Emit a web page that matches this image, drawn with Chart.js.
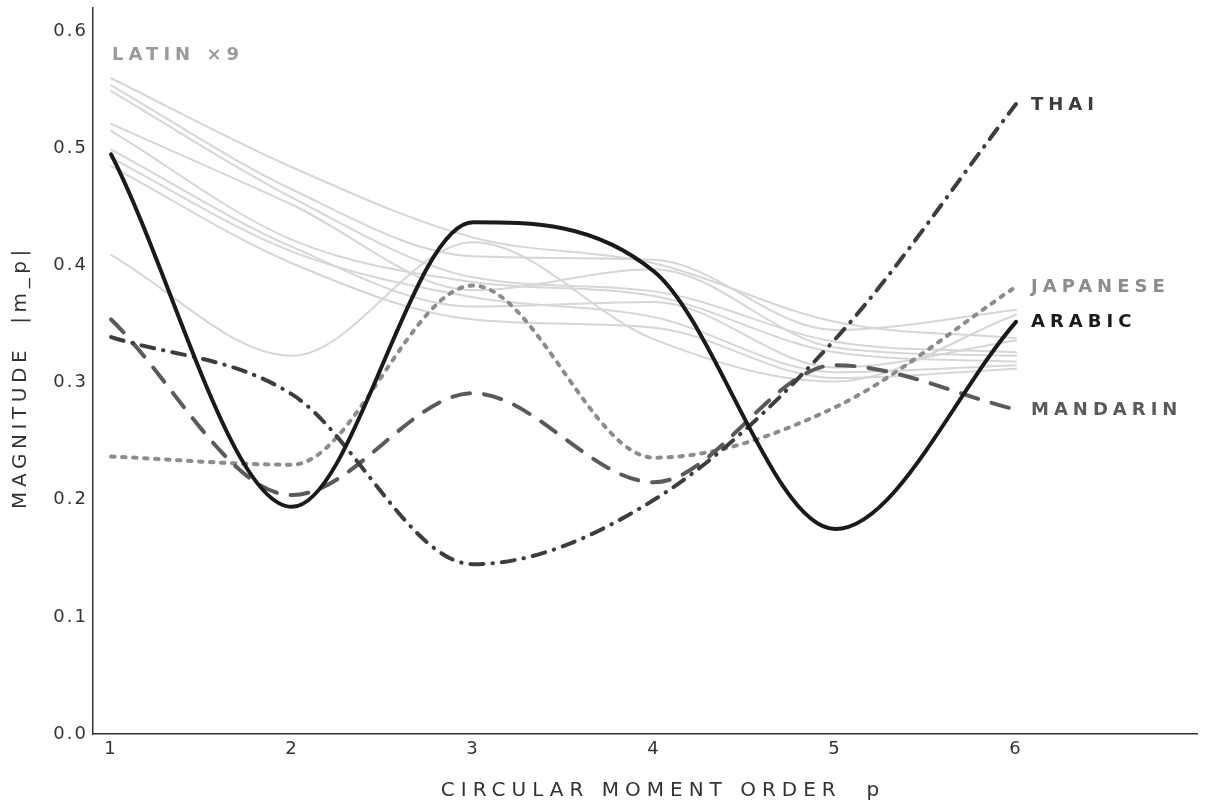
<!DOCTYPE html>
<html>
<head>
<meta charset="utf-8">
<script src="https://cdn.jsdelivr.net/npm/chart.js@4"></script>
<style>
  html, body { margin: 0; padding: 0; background: #fff; }
  #wrap { width: 1231px; height: 804px; position: relative; }
</style>
</head>
<body>
<div id="wrap"><canvas id="chart"></canvas></div>
<script>
// DATA
const orders = [1, 2, 3, 4, 5, 6];
const xTicks = [1, 2, 3, 4, 5, 6];
const yTicks = [0.0, 0.1, 0.2, 0.3, 0.4, 0.5, 0.6];

const arabic   = [0.495, 0.194, 0.437, 0.395, 0.175, 0.352];
const thai     = [0.339, 0.290, 0.145, 0.200, 0.337, 0.538];
const mandarin = [0.354, 0.204, 0.291, 0.215, 0.315, 0.277];
const japanese = [0.237, 0.230, 0.383, 0.236, 0.279, 0.382];

const latin1 = [0.560, 0.484, 0.424, 0.402, 0.352, 0.338];
const latin2 = [0.554, 0.465, 0.408, 0.405, 0.345, 0.362];
const latin3 = [0.549, 0.458, 0.390, 0.378, 0.335, 0.326];
const latin4 = [0.521, 0.452, 0.379, 0.397, 0.330, 0.323];
const latin5 = [0.515, 0.422, 0.386, 0.374, 0.326, 0.318];
const latin6 = [0.499, 0.416, 0.365, 0.369, 0.313, 0.336];
const latin7 = [0.492, 0.412, 0.373, 0.356, 0.309, 0.315];
const latin8 = [0.485, 0.402, 0.354, 0.347, 0.304, 0.312];
const latin9 = [0.409, 0.323, 0.420, 0.337, 0.301, 0.358];
const latinLines = [latin1, latin2, latin3, latin4, latin5, latin6, latin7, latin8, latin9];

const FONT = "'DejaVu Sans', sans-serif";

function pts(vals) {
    return vals.map((v, i) => ({ x: orders[i], y: v }));
}

// main language lines (first = drawn on top)
const datasets = [
    { label: "ARABIC", data: pts(arabic), borderColor: "#1a1a1a", borderWidth: 4, borderDash: [] },
    { label: "THAI", data: pts(thai), borderColor: "#3d3d3d", borderWidth: 4, borderDash: [13, 9, 0.5, 9] },
    { label: "MANDARIN", data: pts(mandarin), borderColor: "#5a5a5a", borderWidth: 4, borderDash: [18, 14] },
    { label: "JAPANESE", data: pts(japanese), borderColor: "#8c8c8c", borderWidth: 4, borderDash: [3.5, 7.5] }
];
latinLines.forEach((l, i) => {
    datasets.push({ label: "latin" + (i + 1), data: pts(l), borderColor: "#d6d6d6", borderWidth: 2, borderDash: [] });
});
datasets.forEach(d => {
    d.pointRadius = 0;
    d.pointHoverRadius = 0;
    d.fill = false;
    d.cubicInterpolationMode = "monotone";
    d.borderCapStyle = "round";
    d.borderJoinStyle = "round";
});

// end labels + axis titles
const labelColors = { ARABIC: "#1a1a1a", THAI: "#3d3d3d", MANDARIN: "#5a5a5a", JAPANESE: "#8c8c8c" };

const labelsPlugin = {
    id: "labels",
    beforeDraw(chart) {
        // a bit of tracking on the tick numbers
        chart.ctx.letterSpacing = "2px";
    },
    afterDraw(chart) {
        const ctx = chart.ctx;
        const xs = chart.scales.x, ys = chart.scales.y;
        const area = chart.chartArea;
        ctx.save();
        ctx.font = "bold 18px " + FONT;
        ctx.letterSpacing = "5px";
        ctx.textAlign = "left";
        ctx.textBaseline = "middle";
        chart.data.datasets.slice(0, 4).forEach(d => {
            const last = d.data[d.data.length - 1];
            ctx.fillStyle = labelColors[d.label];
            ctx.fillText(d.label, xs.getPixelForValue(last.x) + 15, ys.getPixelForValue(last.y) + 1);
        });
        ctx.fillStyle = "#9a9a9a";
        ctx.fillText("LATIN \u00d79", xs.getPixelForValue(1) + 1, ys.getPixelForValue(0.58));

        // axis titles
        ctx.font = "20px " + FONT;
        ctx.letterSpacing = "6px";
        ctx.fillStyle = "#333";
        ctx.textAlign = "center";
        ctx.fillText("CIRCULAR MOMENT ORDER  p", (area.left + area.right) / 2 + 18, 791);
        ctx.letterSpacing = "4.6px";
        ctx.translate(21, (area.top + area.bottom) / 2 + 6);
        ctx.rotate(-Math.PI / 2);
        ctx.fillText("MAGNITUDE  |m_p|", 0, 0);
        ctx.restore();
        ctx.letterSpacing = "0px";
    }
};

const chart = new Chart(document.getElementById("chart"), {
    type: "line",
    data: { datasets: datasets },
    options: {
        responsive: true,
        maintainAspectRatio: false,
        animation: false,
        events: [],
        layout: { padding: { top: 8, right: 34, left: 0, bottom: 0 } },
        plugins: { legend: { display: false }, tooltip: { enabled: false } },
        scales: {
            x: {
                type: "linear",
                min: 0.9,
                max: 7.0,
                grid: { display: false, drawTicks: false },
                border: { display: true, color: "#333", width: 1.5 },
                afterBuildTicks: s => { s.ticks = xTicks.map(v => ({ value: v })); },
                afterFit: s => { s.height = 70; s.paddingLeft = 0; s.paddingRight = 0; },
                ticks: {
                    color: "#333",
                    font: { family: FONT, size: 18 },
                    padding: 5,
                    maxRotation: 0,
                    callback: v => String(v)
                }
            },
            y: {
                min: 0,
                max: 0.62,
                grid: { display: false, drawTicks: false },
                border: { display: true, color: "#333", width: 1.5 },
                afterBuildTicks: s => { s.ticks = yTicks.map(v => ({ value: v })); },
                afterFit: s => { s.width = 93; s.paddingTop = 0; s.paddingBottom = 0; },
                ticks: {
                    color: "#333",
                    font: { family: FONT, size: 18 },
                    padding: 5,
                    callback: v => Number(v).toFixed(1)
                }
            }
        }
    },
    plugins: [labelsPlugin]
});
</script>
</body>
</html>
